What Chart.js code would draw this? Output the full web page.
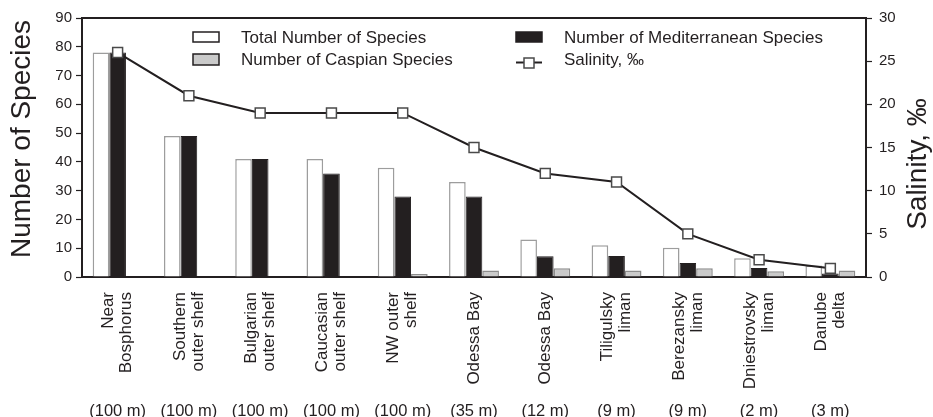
<!DOCTYPE html>
<html>
<head>
<meta charset="utf-8">
<script src="https://cdn.jsdelivr.net/npm/chart.js@4.4.1/dist/chart.umd.min.js"></script>
<style>
  html, body { margin: 0; padding: 0; background: #ffffff; }
  canvas { display: block; }
</style>
</head>
<body>
<canvas id="chart" width="933" height="417"></canvas>
<script>
// Sampling sites along the salinity gradient (name lines, station depth)
const siteNames = [
  ["Near", "Bosphorus"],
  ["Southern", "outer shelf"],
  ["Bulgarian", "outer shelf"],
  ["Caucasian", "outer shelf"],
  ["NW outer", "shelf"],
  ["Odessa Bay"],
  ["Odessa Bay"],
  ["Tiligulsky", "liman"],
  ["Berezansky", "liman"],
  ["Dniestrovsky", "liman"],
  ["Danube", "delta"]
];
const depthLabels = ["(100 m)", "(100 m)", "(100 m)", "(100 m)", "(100 m)", "(35 m)", "(12 m)", "(9 m)", "(9 m)", "(2 m)", "(3 m)"];

// Species counts per site
const totalSpecies         = [78, 49, 41, 41, 38, 33, 13, 11, 10.2, 6.5, 4];
const mediterraneanSpecies = [78, 49, 41, 36, 28, 28, 7.2, 7.3, 4.9, 3.1, 1.2];
const caspianSpecies       = [0, 0, 0, 0, 1, 2.3, 3, 2.3, 3, 2, 2.3];

// Salinity, per mille
const salinity = [26, 21, 19, 19, 19, 15, 12, 11, 5, 2, 1];

// Axis ranges
const speciesAxis  = { min: 0, max: 90, step: 10 };
const salinityAxis = { min: 0, max: 30, step: 5 };

const INK = '#231f20';
const FONT = "'Liberation Sans', Arial, Helvetica, sans-serif";

Chart.defaults.font.family = FONT;
Chart.defaults.color = INK;

// Frame top, rotated site names, axis titles and the in-plot legend
const decorations = {
  id: 'decorations',
  afterDraw(chart) {
    const { ctx, chartArea: a, scales } = chart;
    ctx.save();

    // top edge of the plot frame
    ctx.strokeStyle = INK;
    ctx.lineWidth = 2;
    ctx.beginPath();
    ctx.moveTo(a.left - 1, a.top);
    ctx.lineTo(a.right + 1, a.top);
    ctx.stroke();

    // site names, rotated, hanging below the axis
    ctx.fillStyle = INK;
    ctx.font = '17px ' + FONT;
    ctx.textAlign = 'right';
    ctx.textBaseline = 'middle';
    const lh = 18;
    siteNames.forEach((lines, i) => {
      const x = scales.x.getPixelForTick(i);
      ctx.save();
      ctx.translate(x, a.bottom + 15);
      ctx.rotate(-Math.PI / 2);
      lines.forEach((t, k) => ctx.fillText(t, 0, (k - (lines.length - 1) / 2) * lh));
      ctx.restore();
    });

    // axis titles
    ctx.font = '28px ' + FONT;
    ctx.textAlign = 'center';
    ctx.textBaseline = 'middle';
    ctx.save();
    ctx.translate(22, 139);
    ctx.rotate(-Math.PI / 2);
    ctx.fillText('Number of Species', 0, 0);
    ctx.restore();
    ctx.save();
    ctx.translate(918, 164);
    ctx.rotate(-Math.PI / 2);
    ctx.fillText('Salinity, \u2030', 0, 0);
    ctx.restore();

    // legend
    const ds = chart.data.datasets;
    const c1 = a.left + 111, c2 = a.left + 434;
    const r1 = a.top + 14, r2 = a.top + 35;
    const box = (x, y, h, d) => {
      ctx.fillStyle = d.backgroundColor;
      ctx.fillRect(x, y, 26, h);
      ctx.strokeStyle = d.legendBorder || d.borderColor;
      ctx.lineWidth = 1.5;
      ctx.strokeRect(x, y, 26, h);
    };
    box(c1, r1, 10, ds[0]);
    box(c1, r2 + 1, 11, ds[2]);
    box(c2, r1, 10, ds[1]);
    // salinity symbol
    ctx.strokeStyle = INK;
    ctx.lineWidth = 2;
    ctx.beginPath();
    ctx.moveTo(c2, r2 + 9.5);
    ctx.lineTo(c2 + 26, r2 + 9.5);
    ctx.stroke();
    ctx.fillStyle = '#ffffff';
    ctx.fillRect(c2 + 8, r2 + 5, 10, 10);
    ctx.strokeStyle = ds[3].pointBorderColor;
    ctx.lineWidth = 1.5;
    ctx.strokeRect(c2 + 8, r2 + 5, 10, 10);

    ctx.fillStyle = INK;
    ctx.font = '17px ' + FONT;
    ctx.textAlign = 'left';
    ctx.textBaseline = 'alphabetic';
    ctx.fillText(ds[0].label, c1 + 48, r1 + 10.5);
    ctx.fillText(ds[2].label, c1 + 48, r2 + 11.5);
    ctx.fillText(ds[1].label, c2 + 48, r1 + 10.5);
    ctx.fillText(ds[3].label, c2 + 48, r2 + 11.5);

    ctx.restore();
  }
};

new Chart(document.getElementById('chart'), {
  data: {
    labels: siteNames,
    datasets: [
      {
        type: 'bar',
        label: 'Total Number of Species',
        data: totalSpecies,
        backgroundColor: '#ffffff',
        borderColor: '#9d9d9d',
        legendBorder: INK,
        borderWidth: 1.5,
        yAxisID: 'y',
        order: 1
      },
      {
        type: 'bar',
        label: 'Number of Mediterranean Species',
        data: mediterraneanSpecies,
        backgroundColor: INK,
        borderColor: INK,
        borderWidth: 1,
        yAxisID: 'y',
        order: 1
      },
      {
        type: 'bar',
        label: 'Number of Caspian Species',
        data: caspianSpecies,
        backgroundColor: '#cacaca',
        borderColor: '#8c8c8c',
        legendBorder: INK,
        borderWidth: 1.5,
        yAxisID: 'y',
        order: 1
      },
      {
        type: 'line',
        label: 'Salinity, \u2030',
        data: salinity,
        borderColor: INK,
        borderWidth: 2,
        pointStyle: 'rect',
        pointRadius: 7,
        pointBackgroundColor: '#ffffff',
        pointBorderColor: '#4a4a4a',
        pointBorderWidth: 1.5,
        tension: 0,
        yAxisID: 'y1',
        order: 0
      }
    ]
  },
  options: {
    responsive: false,
    animation: false,
    events: [],
    layout: { padding: { top: 18, left: 0, right: 0, bottom: 0 } },
    datasets: {
      bar: { categoryPercentage: 0.7, barPercentage: 1.0, borderSkipped: 'start' }
    },
    plugins: {
      legend: { display: false },
      tooltip: { enabled: false },
      title: { display: false }
    },
    scales: {
      x: {
        type: 'category',
        position: 'bottom',
        offset: true,
        grid: { display: false },
        border: { display: true, color: INK, width: 2 },
        ticks: {
          autoSkip: false,
          maxRotation: 0,
          minRotation: 0,
          padding: 117,
          font: { size: 16.5 },
          color: INK,
          callback: (v, i) => depthLabels[i]
        },
        afterFit: s => { s.height = 140; s.paddingLeft = 0; s.paddingRight = 0; }
      },
      y: {
        position: 'left',
        min: speciesAxis.min,
        max: speciesAxis.max,
        grid: { drawOnChartArea: false, drawTicks: true, tickLength: 6, tickColor: INK, tickWidth: 1.2 },
        border: { display: true, color: INK, width: 2 },
        ticks: { stepSize: speciesAxis.step, padding: 4, font: { size: 15 }, color: INK },
        afterFit: s => { s.width = 82; }
      },
      y1: {
        position: 'right',
        min: salinityAxis.min,
        max: salinityAxis.max,
        grid: { drawOnChartArea: false, drawTicks: true, tickLength: 6, tickColor: INK, tickWidth: 1.2 },
        border: { display: true, color: INK, width: 2 },
        ticks: { stepSize: salinityAxis.step, padding: 7, font: { size: 15 }, color: INK },
        afterFit: s => { s.width = 67; }
      }
    }
  },
  plugins: [decorations]
});
</script>
</body>
</html>
